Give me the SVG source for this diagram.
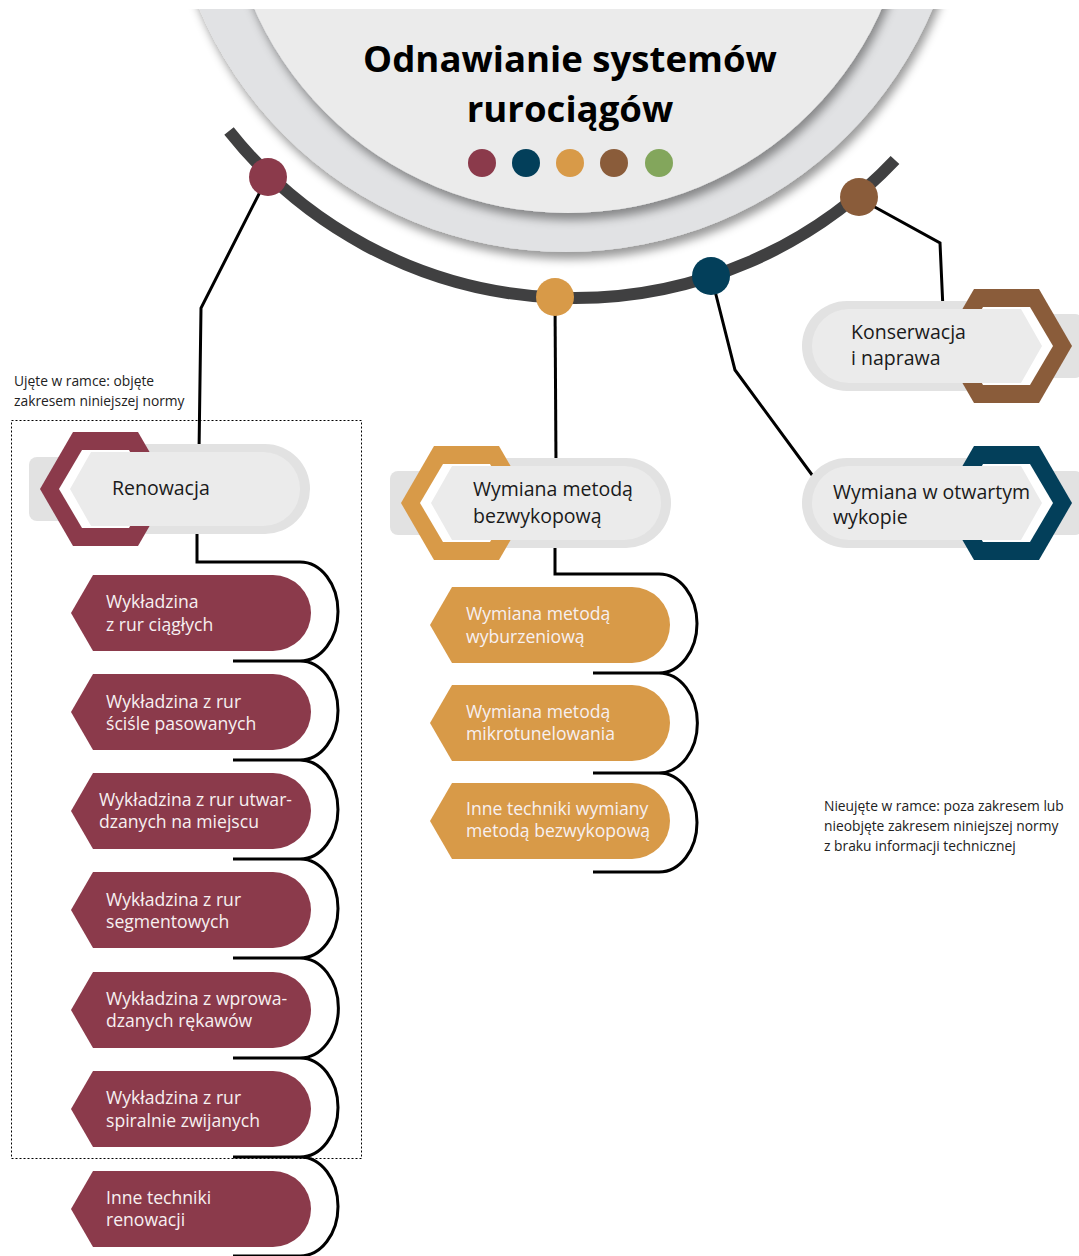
<svg xmlns="http://www.w3.org/2000/svg" width="1079" height="1256" viewBox="0 0 1079 1256">
<style>
.bg{fill:#ffffff}
.title{font-family:"Open Sans","Noto Sans",sans-serif;font-weight:700;font-size:36.6px;fill:#000;text-anchor:middle}
.lbl{font-family:"Open Sans","Noto Sans",sans-serif;font-size:19.5px;fill:#1a1a1a}
.itm{font-family:"Open Sans","Noto Sans",sans-serif;font-size:17.6px;fill:#f7f0f1}
.note{font-family:"Open Sans","Noto Sans",sans-serif;font-size:13.8px;fill:#222}
.outer{fill:#e2e2e2}
.inner{fill:#ebebeb}
.white{fill:#ffffff}
.c-bur{fill:#8b3a4b}
.c-nav{fill:#033f5a}
.c-ora{fill:#d89a48}
.c-bro{fill:#8a5c3a}
.c-gre{fill:#83a65c}
.line{fill:none;stroke:#000;stroke-width:3}
.frame{fill:none;stroke:#000;stroke-width:1;stroke-dasharray:2 2}
</style>
<defs>
<clipPath id="topclip"><rect x="0" y="9" width="1079" height="1247"/></clipPath>
<filter id="sh" x="-20%" y="-20%" width="140%" height="140%">
<feDropShadow dx="3" dy="7" stdDeviation="5" flood-color="#000" flood-opacity="0.4"/>
</filter>
<g id="nodebase">
<rect class="outer" x="29" y="-32" width="150" height="64" rx="8"/>
<path class="outer" d="M100,-45 H265 A45,45 0 0 1 265,45 H100 Z"/>
</g>
<polygon id="hexout" points="40,0 73,-57 138,-57 171,0 138,57 73,57"/>
<polygon id="hexin" points="59,0 82,-39 129,-39 152,0 129,39 82,39"/>
<path id="nodeinner" d="M70,0 L91,-37 H263 A37,37 0 0 1 263,37 H91 Z"/>
<path id="item" d="M71,0 L93,-38 H273 A38,38 0 0 1 273,38 H93 Z"/>
</defs>
<rect class="bg" x="0" y="0" width="1079" height="1256"/>

<g id="hub" clip-path="url(#topclip)">
<circle cx="566" cy="-146" r="398" fill="#e1e2e4" filter="url(#sh)"/>
<circle cx="568" cy="-130" r="343" fill="#ebebeb" filter="url(#sh)"/>
<path d="M229,131 A441,441 0 0 0 895,160" fill="none" stroke="#404041" stroke-width="12"/>
<text class="title" x="570" y="72">Odnawianie systemów</text>
<text class="title" x="570" y="122">rurociągów</text>
<circle class="c-bur" cx="482" cy="163" r="14"/>
<circle class="c-nav" cx="526" cy="163" r="14"/>
<circle class="c-ora" cx="570" cy="163" r="14"/>
<circle class="c-bro" cx="614" cy="163" r="14"/>
<circle class="c-gre" cx="659" cy="163" r="14"/>
</g>

<g id="connectors">
<polyline class="line" points="262,188 201,308 199,453"/>
<polyline class="line" points="555,300 556,467"/>
<polyline class="line" points="713,283 735,370 818,483"/>
<polyline class="line" points="862,200 940,243 943,309"/>
<path class="line" d="M197,527 V562 H300 A38,49.5 0 0 1 300,661 A38,49.5 0 0 1 300,760 A38,49.5 0 0 1 300,859 A38,49.5 0 0 1 300,958 A38,49.5 0 0 1 300,1058 A38,49.5 0 0 1 300,1157 A38,49.5 0 0 1 300,1256"/>
<path class="line" d="M233,661 H300 M233,760 H300 M233,859 H300 M233,958 H300 M233,1058 H300 M233,1157 H300 M233,1256 H300"/>
<path class="line" d="M555,540 V574 H659 A38,49.5 0 0 1 659,673 A38,49.5 0 0 1 659,773 A38,49.5 0 0 1 659,872"/>
<path class="line" d="M593,673 H659 M593,773 H659 M593,872 H659"/>
</g>

<g id="dots">
<circle class="c-bur" cx="268" cy="177" r="19"/>
<circle class="c-ora" cx="555" cy="297" r="19"/>
<circle class="c-nav" cx="711" cy="276" r="19"/>
<circle class="c-bro" cx="859" cy="197" r="19"/>
</g>

<rect class="frame" x="11.5" y="420.5" width="350" height="738"/>
<text class="note" x="14" y="386">Ujęte w ramce: objęte</text>
<text class="note" x="14" y="406">zakresem niniejszej normy</text>
<text class="note" x="824" y="811">Nieujęte w ramce: poza zakresem lub</text>
<text class="note" x="824" y="831">nieobjęte zakresem niniejszej normy</text>
<text class="note" x="824" y="851">z braku informacji technicznej</text>

<g id="node-renowacja">
<g transform="translate(0,489)">
<use href="#nodebase"/>
<use href="#hexout" class="c-bur"/>
<use href="#hexin" class="white"/>
<use href="#nodeinner" class="inner"/>
</g>
<text class="lbl" x="112" y="495">Renowacja</text>
</g>

<g id="node-bezwykopowa">
<g transform="translate(361,503)">
<use href="#nodebase"/>
<use href="#hexout" class="c-ora"/>
<use href="#hexin" class="white"/>
<use href="#nodeinner" class="inner"/>
</g>
<text class="lbl" x="473" y="496">Wymiana metodą</text>
<text class="lbl" x="473" y="523">bezwykopową</text>
</g>

<g id="node-konserwacja">
<g transform="translate(1112,346) scale(-1,1)">
<use href="#nodebase"/>
<use href="#hexout" class="c-bro"/>
<use href="#hexin" class="white"/>
<use href="#nodeinner" class="inner"/>
</g>
<text class="lbl" x="851" y="339">Konserwacja</text>
<text class="lbl" x="851" y="365">i naprawa</text>
</g>

<g id="node-otwarty">
<g transform="translate(1112,503) scale(-1,1)">
<use href="#nodebase"/>
<use href="#hexout" class="c-nav"/>
<use href="#hexin" class="white"/>
<use href="#nodeinner" class="inner"/>
</g>
<text class="lbl" x="833" y="499">Wymiana w otwartym</text>
<text class="lbl" x="833" y="524">wykopie</text>
</g>

<g id="item-r1"><use href="#item" class="c-bur" transform="translate(0,613)"/>
<text class="itm" x="106" y="608">Wykładzina</text><text class="itm" x="106" y="631">z rur ciągłych</text></g>
<g id="item-r2"><use href="#item" class="c-bur" transform="translate(0,712)"/>
<text class="itm" x="106" y="708">Wykładzina z rur</text><text class="itm" x="106" y="730">ściśle pasowanych</text></g>
<g id="item-r3"><use href="#item" class="c-bur" transform="translate(0,811)"/>
<text class="itm" x="99" y="806">Wykładzina z rur utwar-</text><text class="itm" x="99" y="828">dzanych na miejscu</text></g>
<g id="item-r4"><use href="#item" class="c-bur" transform="translate(0,910)"/>
<text class="itm" x="106" y="906">Wykładzina z rur</text><text class="itm" x="106" y="928">segmentowych</text></g>
<g id="item-r5"><use href="#item" class="c-bur" transform="translate(0,1010)"/>
<text class="itm" x="106" y="1005">Wykładzina z wprowa-</text><text class="itm" x="106" y="1027">dzanych rękawów</text></g>
<g id="item-r6"><use href="#item" class="c-bur" transform="translate(0,1109)"/>
<text class="itm" x="106" y="1104">Wykładzina z rur</text><text class="itm" x="106" y="1127">spiralnie zwijanych</text></g>
<g id="item-r7"><use href="#item" class="c-bur" transform="translate(0,1209)"/>
<text class="itm" x="106" y="1204">Inne techniki</text><text class="itm" x="106" y="1226">renowacji</text></g>

<g id="item-b1"><use href="#item" class="c-ora" transform="translate(359,625)"/>
<text class="itm" x="466" y="620">Wymiana metodą</text><text class="itm" x="466" y="643">wyburzeniową</text></g>
<g id="item-b2"><use href="#item" class="c-ora" transform="translate(359,723)"/>
<text class="itm" x="466" y="718">Wymiana metodą</text><text class="itm" x="466" y="740">mikrotunelowania</text></g>
<g id="item-b3"><use href="#item" class="c-ora" transform="translate(359,821)"/>
<text class="itm" x="466" y="815">Inne techniki wymiany</text><text class="itm" x="466" y="837">metodą bezwykopową</text></g>
</svg>
